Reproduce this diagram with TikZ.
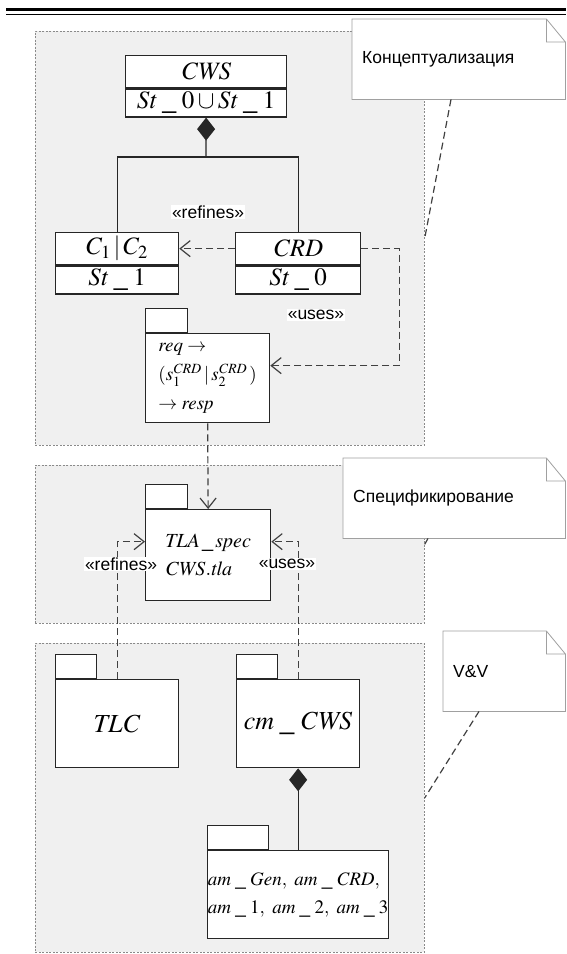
\documentclass[tikz,border=0pt]{standalone}
\usepackage{mathptmx}
\usepackage[no-math]{fontspec}
\setmainfont{Liberation Sans}
\usetikzlibrary{arrows.meta}

\definecolor{regfill}{HTML}{F0F0F0}
\definecolor{regline}{HTML}{8A8A8A}
\definecolor{boxline}{HTML}{262626}
\definecolor{noteline}{HTML}{A0A0A0}
\definecolor{depline}{HTML}{404040}

\begin{document}
\begin{tikzpicture}[x=1pt,y=-1pt,
  region/.style={draw=regline, fill=regfill, line width=0.7pt, dash pattern=on 2pt off 1.5pt, inner sep=0pt, anchor=north west},
  cls/.style={draw=boxline, fill=white, line width=1.3pt, inner sep=0pt, font=\fontsize{25}{30}\selectfont},
  pkg/.style={draw=boxline, fill=white, line width=1.3pt, inner sep=0pt, anchor=north west, align=left},
  pkgtab/.style={draw=boxline, fill=white, line width=1.3pt, inner sep=0pt, minimum height=24pt, anchor=south west},
  note/.style={fill=white, inner xsep=10pt, inner ysep=0pt, minimum height=80pt, align=left, anchor=north west, font=\fontsize{17.5}{21}\selectfont},
  notebox/.style={draw=noteline, line width=0.8pt},
  notelink/.style={depline, line width=1.2pt, dash pattern=on 7pt off 4pt},
  dep/.style={depline, line width=1.2pt, dash pattern=on 7pt off 4pt, -{Straight Barb[length=10pt,width=16pt]}},
  assoc/.style={boxline, line width=1.3pt},
  comp/.style={boxline, line width=1.3pt, {Diamond[length=23pt,width=18pt]}-},
  tag/.style={fill=white, inner sep=1pt, font=\fontsize{17.5}{21}\selectfont}]
\useasboundingbox (0,0) rectangle (566,954);

% page rules
\draw[line width=3pt] (6,9.5) -- (566,9.5);
\draw[line width=1pt] (6,14) -- (566,14);

% phases
\node[region, minimum width=389pt, minimum height=414pt] (conc) at (35,31) {};
\node[region, minimum width=389pt, minimum height=158pt] (spec) at (35,465) {};
\node[region, minimum width=389pt, minimum height=309pt] (vv) at (35,643) {};

% notes
\node[note, text width=193pt] (nconc) at (352,19) {Концептуализация};
\node[note, text width=202pt] (nspec) at (343,458) {Спецификирование};
\node[note, text width=102pt] (nvv) at (443,631) {V\&V};
\foreach \n in {nconc,nspec,nvv}
  \draw[notebox] (\n.south west) -- (\n.north west) -- ([xshift=-19pt]\n.north east)
    -- ([yshift=-23pt]\n.north east) -- (\n.south east) -- cycle
    ([xshift=-19pt]\n.north east) |- ([yshift=-23pt]\n.north east);
\draw[notelink] ([xshift=99pt]nconc.south west) -- (conc.east);
\draw[notelink] ([xshift=85pt]nspec.south west) -- (spec.east);
\draw[notelink] ([xshift=36pt]nvv.south west) -- (vv.east);

% classes
\node[cls, minimum width=161pt, minimum height=32pt, anchor=north west] (cws) at (125,55) {$\mathit{CWS}$};
\node[cls, minimum width=161pt, minimum height=28pt, anchor=north] (cwsst) at (cws.south) {$\mathit{St}\;\_\;0\cup\mathit{St}\;\_\;1$};
\node[cls, minimum width=123pt, minimum height=32pt, anchor=north west] (c12) at (55,232) {$C_1\,|\,C_2$};
\node[cls, minimum width=123pt, minimum height=28pt, anchor=north] (c12st) at (c12.south) {$\mathit{St}\;\_\;1$};
\node[cls, minimum width=125pt, minimum height=32pt, anchor=north west] (crd) at (235,232) {$\mathit{CRD}$};
\node[cls, minimum width=125pt, minimum height=28pt, anchor=north] (crdst) at (crd.south) {$\mathit{St}\;\_\;0$};

% packages
\node[pkg, minimum width=124pt, minimum height=89pt, font=\fontsize{19}{29}\selectfont] (req) at (145,333)
  {$\mathit{req}\rightarrow$\\$(s_1^{\mathit{CRD}}\,|\,s_2^{\mathit{CRD}}\,)$\\$\rightarrow\mathit{resp}$};
\node[pkgtab, minimum width=42pt] (reqtab) at (req.north west) {};
\node[pkg, minimum width=125pt, minimum height=91pt, font=\fontsize{20}{28}\selectfont] (tla) at (145,509)
  {$\mathit{TLA}\,\_\,\mathit{spec}$\\$\mathit{CWS.tla}$};
\node[pkgtab, minimum width=42pt] (tlatab) at (tla.north west) {};
\node[pkg, minimum width=123pt, minimum height=88pt, font=\fontsize{26}{30}\selectfont] (tlc) at (55,679) {$\mathit{TLC}$};
\node[pkgtab, minimum width=41pt] (tlctab) at (tlc.north west) {};
\node[pkg, minimum width=123pt, minimum height=88pt, font=\fontsize{26}{30}\selectfont] (cm) at (236,679) {$\mathit{cm}\;\_\;\mathit{CWS}$};
\node[pkgtab, minimum width=41pt] (cmtab) at (cm.north west) {};
\node[pkg, minimum width=181pt, minimum height=88pt, font=\fontsize{19}{28}\selectfont] (am) at (207,850)
  {$\mathit{am}\;\_\;\mathit{Gen},\ \mathit{am}\;\_\;\mathit{CRD},$\\$\mathit{am}\;\_\;1,\ \mathit{am}\;\_\;2,\ \mathit{am}\;\_\;3$};
\node[pkgtab, minimum width=61pt] (amtab) at (am.north west) {};

% relations
\coordinate (fork) at (206,157);
\draw[comp] (cwsst.south) -- (fork);
\draw[assoc] (c12.north) |- (fork) -| (crd.north);
\draw[dep] (crd.west) -- (c12.east);
\node[tag] (tref1) at (208,212) {«refines»};
\draw[dep] (crd.east) -- ++(38,0) |- ([yshift=12.5pt]req.east);
\node[tag] (tuse1) at (316,315) {«uses»};
\draw[dep] (req.south) -- (tla.north);
\draw[dep] (tlc.north) |- ([yshift=13.5pt]tla.west);
\draw[dep] (cm.north) |- ([yshift=13.5pt]tla.east);
\node[tag] (tref2) at (121,564) {«refines»};
\node[tag] (tuse2) at (287,564) {«uses»};
\draw[comp] (cm.south) -- (am.north);
\end{tikzpicture}
\end{document}
